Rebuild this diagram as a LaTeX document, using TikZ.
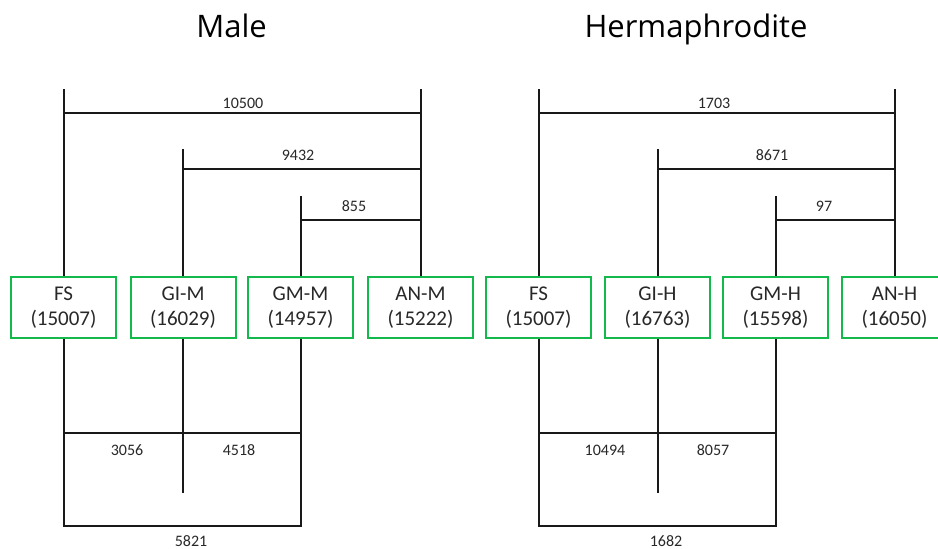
\documentclass[tikz,border=0pt]{standalone}
\usepackage{fontspec}
\setmainfont{Carlito}
\newfontfamily\titlefont{Open Sans}
\definecolor{boxgreen}{RGB}{20,185,75}
\definecolor{txtgrey}{RGB}{40,40,40}
\begin{document}
\begin{tikzpicture}[x=1pt,y=-1pt,
  box/.style={draw=boxgreen,line width=2pt,minimum width=105pt,minimum height=61pt,inner sep=0pt,align=center,text=txtgrey,font=\fontsize{21}{25}\selectfont},
  ln/.style={line width=2pt,black!90},
  lbl/.style={inner sep=0pt,text=txtgrey,font=\fontsize{16}{18}\selectfont},
  ttl/.style={inner sep=0pt,anchor=base,font=\titlefont\fontsize{31}{36}\selectfont}]
\useasboundingbox (0,0) rectangle (938,549);

% titles
\node[ttl] (tmale) at (231.5,37) {Male};
\node[ttl] (therm) at (696,37) {Hermaphrodite};

% ---------- Male ----------
\node[box] (fsm) at (63.5,307.5) {FS\\(15007)};
\node[box] (gim) at (183,307.5) {GI-M\\(16029)};
\node[box] (gmm) at (300.5,307.5) {GM-M\\(14957)};
\node[box] (anm) at (420.5,307.5) {AN-M\\(15222)};

\coordinate (fsmT) at (fsm.north |- 0,89);
\coordinate (anmT) at (anm.north |- 0,89);
\coordinate (gimT) at (gim.north |- 0,149);
\coordinate (gmmT) at (gmm.north |- 0,196);
\draw[ln] (fsm.north) -- (fsmT);
\draw[ln] (anm.north) -- (anmT);
\draw[ln] (gim.north) -- (gimT);
\draw[ln] (gmm.north) -- (gmmT);
\draw[ln] (fsm.north |- 0,113) -- (anm.north |- 0,113);
\draw[ln] (gim.north |- 0,169) -- (anm.north |- 0,169);
\draw[ln] (gmm.north |- 0,220) -- (anm.north |- 0,220);
\node[lbl] (l10500) at (243,103) {10500};
\node[lbl] (l9432) at (298,155) {9432};
\node[lbl] (l855) at (354,206) {855};

\coordinate (gimB) at (gim.south |- 0,493);
\draw[ln] (gim.south) -- (gimB);
\draw[ln] (fsm.south) -- (fsm.south |- 0,526) -- (gmm.south |- 0,526) -- (gmm.south);
\draw[ln] (fsm.south |- 0,433) -- (gmm.south |- 0,433);
\node[lbl] (l3056) at (127,450) {3056};
\node[lbl] (l4518) at (239,450) {4518};
\node[lbl] (l5821) at (191,541) {5821};

% ---------- Hermaphrodite ----------
\node[box] (fsh) at (538.5,307.5) {FS\\(15007)};
\node[box] (gih) at (657.5,307.5) {GI-H\\(16763)};
\node[box] (gmh) at (775.5,307.5) {GM-H\\(15598)};
\node[box] (anh) at (894.5,307.5) {AN-H\\(16050)};

\coordinate (fshT) at (fsh.north |- 0,89);
\coordinate (anhT) at (anh.north |- 0,89);
\coordinate (gihT) at (gih.north |- 0,149);
\coordinate (gmhT) at (gmh.north |- 0,196);
\draw[ln] (fsh.north) -- (fshT);
\draw[ln] (anh.north) -- (anhT);
\draw[ln] (gih.north) -- (gihT);
\draw[ln] (gmh.north) -- (gmhT);
\draw[ln] (fsh.north |- 0,113) -- (anh.north |- 0,113);
\draw[ln] (gih.north |- 0,169) -- (anh.north |- 0,169);
\draw[ln] (gmh.north |- 0,220) -- (anh.north |- 0,220);
\node[lbl] (l1703) at (714,103) {1703};
\node[lbl] (l8671) at (772,155) {8671};
\node[lbl] (l97) at (824,206) {97};

\coordinate (gihB) at (gih.south |- 0,493);
\draw[ln] (gih.south) -- (gihB);
\draw[ln] (fsh.south) -- (fsh.south |- 0,526) -- (gmh.south |- 0,526) -- (gmh.south);
\draw[ln] (fsh.south |- 0,433) -- (gmh.south |- 0,433);
\node[lbl] (l10494) at (605,450) {10494};
\node[lbl] (l8057) at (713,450) {8057};
\node[lbl] (l1682) at (666,541) {1682};
\end{tikzpicture}
\end{document}
